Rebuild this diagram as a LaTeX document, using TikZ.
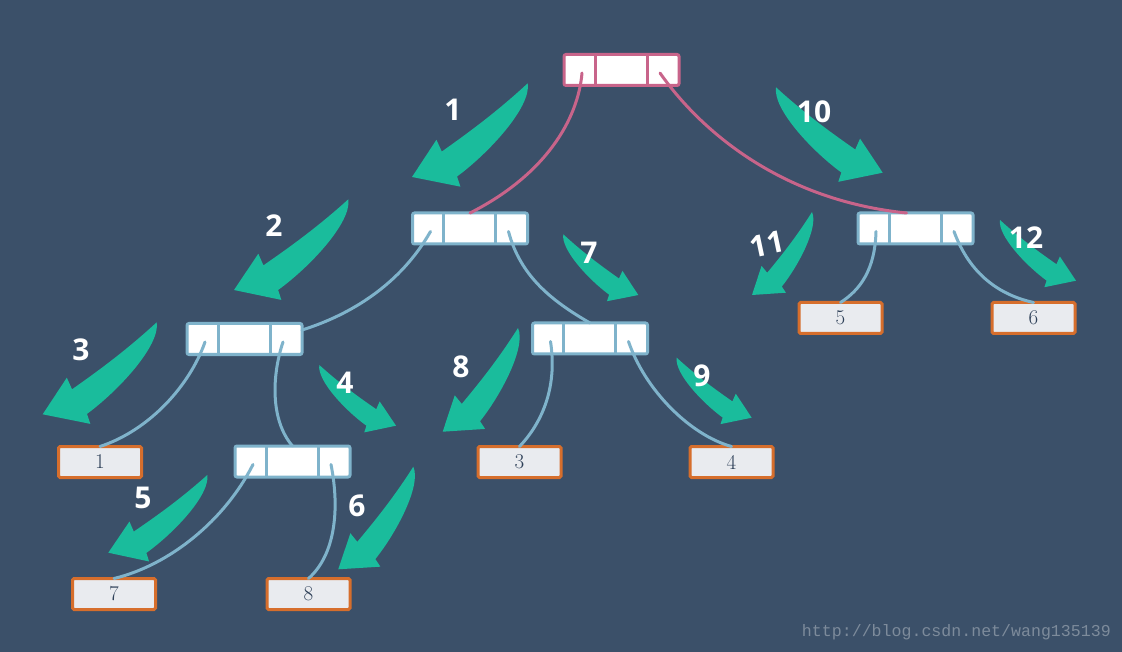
\documentclass[tikz,border=0pt]{standalone}
\usepackage{fontspec}
\setsansfont{Open Sans}
\setmonofont{Liberation Mono}
\usetikzlibrary{calc}
\definecolor{bg}{HTML}{3B5069}
\definecolor{grn}{HTML}{1ABC9C}
\definecolor{pnk}{HTML}{C8648A}
\definecolor{blu}{HTML}{7FB3CB}
\definecolor{org}{HTML}{D66E2C}
\definecolor{leaffill}{HTML}{E9EBEF}
\definecolor{txt}{HTML}{2E4058}
\definecolor{wmark}{HTML}{7D8B9B}
% curved tapered green arrow: #1 tail, #2 tip, #3 = 1 (bends like a left-going arrow) or -1 (mirrored)
\newcommand{\garrow}[3]{%
  \fill[garrowfill] (#1)
   .. controls ($(#1)!0.3007!{#3*3.81}:(#2)$) and ($(#1)!0.5500!{#3*0.52}:(#2)$) .. ($(#1)!0.7370!{#3*(-0.544)}:(#2)$)
   -- ($(#1)!0.7208!{#3*(-7.25)}:(#2)$) -- (#2) -- ($(#1)!0.8283!{#3*17.93}:(#2)$) -- ($(#1)!0.7858!{#3*13.84}:(#2)$)
   .. controls ($(#1)!0.5385!{#3*21.80}:(#2)$) and ($(#1)!0.1612!{#3*60.26}:(#2)$) .. (#1) -- cycle;}
\newcommand{\cellseps}[2]{%
  \draw[line width=3pt,#2] ($(#1.north west)+(31,0)$) -- ($(#1.south west)+(31,0)$);
  \draw[line width=3pt,#2] ($(#1.north west)+(83,0)$) -- ($(#1.south west)+(83,0)$);
  \coordinate (#1L) at ($(#1.west)+(18,3)$);
  \coordinate (#1R) at ($(#1.east)+(-19,3)$);}
\begin{document}
\begin{tikzpicture}[x=1pt,y=-1pt,
  tri/.style={draw, fill=white, line width=3pt, rounded corners=2pt, minimum width=115pt, minimum height=31pt, inner sep=0pt, outer sep=0pt},
  leaf/.style={draw=org, fill=leaffill, line width=3pt, rounded corners=1.5pt, minimum width=83pt, minimum height=31pt, inner sep=0pt, outer sep=0pt, font=\fontsize{21}{21}\selectfont, text=txt},
  lbl/.style={text=white, font=\sffamily\bfseries\fontsize{30}{30}\selectfont, inner sep=0pt},
  link/.style={line width=3pt, line cap=round},
  garrowfill/.style={fill=grn}]
\fill[bg] (0,0) rectangle (1122,652);
\useasboundingbox (0,0) rectangle (1122,652);

% tree nodes
\node[tri, draw=pnk] (root) at (621.5,70) {};
\node[tri, draw=blu] (A) at (470,228.5) {};
\node[tri, draw=blu] (B) at (244.5,339) {};
\node[tri, draw=blu] (C) at (590,338.5) {};
\node[tri, draw=blu] (D) at (915.5,228.5) {};
\node[tri, draw=blu] (E) at (292.5,461.5) {};
\cellseps{root}{pnk}
\cellseps{A}{blu}
\cellseps{B}{blu}
\cellseps{C}{blu}
\cellseps{D}{blu}
\cellseps{E}{blu}

% leaves
\node[leaf] (l1) at (100,462) {1};
\node[leaf] (l3) at (519.5,462) {3};
\node[leaf] (l4) at (731.5,462) {4};
\node[leaf] (l5) at (840.5,318) {5};
\node[leaf] (l6) at (1033.5,318) {6};
\node[leaf] (l7) at (114,594) {7};
\node[leaf] (l8) at (308.5,594) {8};

% connectors
\coordinate (Dtop) at ($(D.north)+(-9,0)$);
\coordinate (Bside) at ($(B.east)+(0,-9)$);
\draw[link, pnk] (rootL) .. controls (578,120) and (545,175) .. (A.north);
\draw[link, pnk] (rootR) .. controls (700,130) and (780,200) .. (Dtop);
\draw[link, blu] (AL) .. controls (400,285) and (350,315) .. (Bside);
\draw[link, blu] (AR) .. controls (520,275) and (550,300) .. (C.north);
\draw[link, blu] (BL) .. controls (190,385) and (150,430) .. (l1.north);
\draw[link, blu] (BR) .. controls (272,375) and (270,420) .. (E.north);
\draw[link, blu] (CL) .. controls (558,390) and (540,425) .. (l3.north);
\draw[link, blu] (CR) .. controls (645,390) and (690,435) .. (l4.north);
\draw[link, blu] (DL) .. controls (875,270) and (860,290) .. (l5.north);
\draw[link, blu] (DR) .. controls (970,275) and (1000,295) .. (l6.north);
\draw[link, blu] (EL) .. controls (225,520) and (170,565) .. (l7.north);
\draw[link, blu] (ER) .. controls (340,510) and (335,555) .. (l8.north);

% green arrows
\coordinate (t1) at (527.7,83.3);  \coordinate (h1) at (412,177);
\coordinate (t2) at (348.3,199.3); \coordinate (h2) at (234,290);
\coordinate (t3) at (156.7,322.3); \coordinate (h3) at (42.7,414.3);
\coordinate (t4) at (319.3,365);   \coordinate (h4) at (396,425.7);
\coordinate (t5) at (207.3,475);   \coordinate (h5) at (108.3,552.7);
\coordinate (t6) at (413.3,466.7); \coordinate (h6) at (338.3,569.3);
\coordinate (t7) at (563.3,234.3); \coordinate (h7) at (638.3,295);
\coordinate (t8) at (518,328);     \coordinate (h8) at (442.7,431.7);
\coordinate (t9) at (676.7,357.7); \coordinate (h9) at (751.7,417.7);
\coordinate (t10) at (776,87.3);   \coordinate (h10) at (882.7,172.7);
\coordinate (t11) at (812,212);    \coordinate (h11) at (752,295);
\coordinate (t12) at (1000,220);   \coordinate (h12) at (1076,280.7);
\garrow{t1}{h1}{1}
\garrow{t2}{h2}{1}
\garrow{t3}{h3}{1}
\garrow{t4}{h4}{-1}
\garrow{t5}{h5}{1}
\garrow{t6}{h6}{1}
\garrow{t7}{h7}{-1}
\garrow{t8}{h8}{1}
\garrow{t9}{h9}{-1}
\garrow{t10}{h10}{-1}
\garrow{t11}{h11}{1}
\garrow{t12}{h12}{-1}

% step labels
\node[lbl] (n1) at (453,110) {1};
\node[lbl] (n2) at (274,226) {2};
\node[lbl] (n3) at (81,350) {3};
\node[lbl] (n4) at (345,383) {4};
\node[lbl] (n5) at (143,498) {5};
\node[lbl] (n6) at (357,506) {6};
\node[lbl] (n7) at (589,253) {7};
\node[lbl] (n8) at (461,367) {8};
\node[lbl] (n9) at (702,376) {9};
\node[lbl] (n10) at (814,112) {10};
\node[lbl, rotate=12] (n11) at (767,244) {11};
\node[lbl] (n12) at (1026,238) {12};

\node[text=wmark, font=\ttfamily\fontsize{16.6}{16.6}\selectfont, anchor=east, inner sep=0pt] (wm) at (1111,632) {http://blog.csdn.net/wang135139};
\end{tikzpicture}
\end{document}
